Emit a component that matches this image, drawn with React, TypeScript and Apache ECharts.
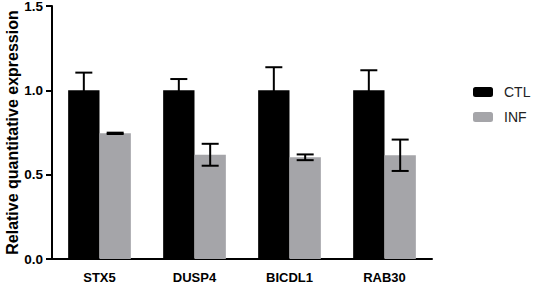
import React, { useEffect, useRef } from "react";
import * as echarts from "echarts";

const categories = ["STX5", "DUSP4", "BICDL1", "RAB30"];
const ctlValues = [1.0, 1.0, 1.0, 1.0];
const ctlErrors = [0.105, 0.067, 0.137, 0.119];
const infValues = [0.745, 0.618, 0.603, 0.615];
const infErrors = [0.004, 0.065, 0.017, 0.093];
const yTicks = [0, 0.5, 1.0, 1.5];

const FONT = "'Liberation Sans', Arial, sans-serif";
const BAR_PCT = 0.33;

function errorSeries(name: string, values: number[], errs: number[], sign: number) {
  return {
    type: "custom",
    name: name + "-err",
    z: 5,
    silent: true,
    data: values.map((v, i) => [i, v - errs[i], v + errs[i]]),
    renderItem: (params: any, api: any) => {
      const idx = api.value(0);
      const lo = api.coord([idx, api.value(1)]);
      const hi = api.coord([idx, api.value(2)]);
      const band = api.size([1, 0])[0];
      const cx = lo[0] + (sign * band * BAR_PCT) / 2;
      const half = 8.5;
      const style = { stroke: "#000", lineWidth: 2 };
      return {
        type: "group",
        children: [
          { type: "line", shape: { x1: cx, y1: lo[1], x2: cx, y2: hi[1] }, style },
          { type: "line", shape: { x1: cx - half, y1: hi[1], x2: cx + half, y2: hi[1] }, style },
          { type: "line", shape: { x1: cx - half, y1: lo[1], x2: cx + half, y2: lo[1] }, style },
        ],
      };
    },
  };
}

export default function App() {
  const ref = useRef<HTMLDivElement>(null);
  useEffect(() => {
    if (!ref.current) return;
    const chart = echarts.init(ref.current, undefined, { renderer: "svg" });
    chart.setOption({
      animation: false,
      backgroundColor: "#fff",
      textStyle: { fontFamily: FONT },
      grid: { left: 52, right: 101, top: 6, bottom: 25, containLabel: false, outerBoundsMode: "none" },
      legend: {
        orient: "vertical",
        left: 468,
        top: 80,
        itemWidth: 20,
        itemHeight: 10,
        itemGap: 11,
        data: ["CTL", "INF"],
        textStyle: { fontFamily: FONT, fontSize: 14, color: "#222", padding: [0, 0, 0, 6] },
      },
      xAxis: {
        type: "category",
        data: categories,
        axisLine: { lineStyle: { color: "#000", width: 2 } },
        axisTick: { alignWithLabel: true, length: 6, lineStyle: { color: "#000", width: 2 } },
        axisLabel: { color: "#000", fontWeight: "bold", fontSize: 13, margin: 12, fontFamily: FONT },
      },
      yAxis: {
        type: "value",
        min: yTicks[0],
        max: yTicks[yTicks.length - 1],
        interval: 0.5,
        name: "Relative quantitative expression",
        nameLocation: "middle",
        nameGap: 32,
        nameMoveOverlap: false,
        nameTextStyle: { color: "#000", fontWeight: "bold", fontSize: 16, fontFamily: FONT },
        axisLine: { show: true, lineStyle: { color: "#000", width: 2 } },
        axisTick: { show: true, length: 6, lineStyle: { color: "#000", width: 2 } },
        splitLine: { show: false },
        axisLabel: {
          color: "#000",
          fontWeight: "bold",
          fontSize: 13.5,
          margin: 9,
          fontFamily: FONT,
          formatter: (v: number) => v.toFixed(1),
        },
      },
      series: [
        {
          type: "bar",
          name: "CTL",
          data: ctlValues,
          barWidth: BAR_PCT * 100 + "%",
          barGap: "0%",
          itemStyle: { color: "#000" },
        },
        {
          type: "bar",
          name: "INF",
          data: infValues,
          barWidth: BAR_PCT * 100 + "%",
          barGap: "0%",
          itemStyle: { color: "#a5a5a9" },
        },
        errorSeries("CTL", ctlValues, ctlErrors, -1),
        errorSeries("INF", infValues, infErrors, 1),
      ],
    });
    return () => chart.dispose();
  }, []);
  return <div ref={ref} style={{ position: "fixed", left: 0, top: 0, width: 533, height: 284 }} />;
}
